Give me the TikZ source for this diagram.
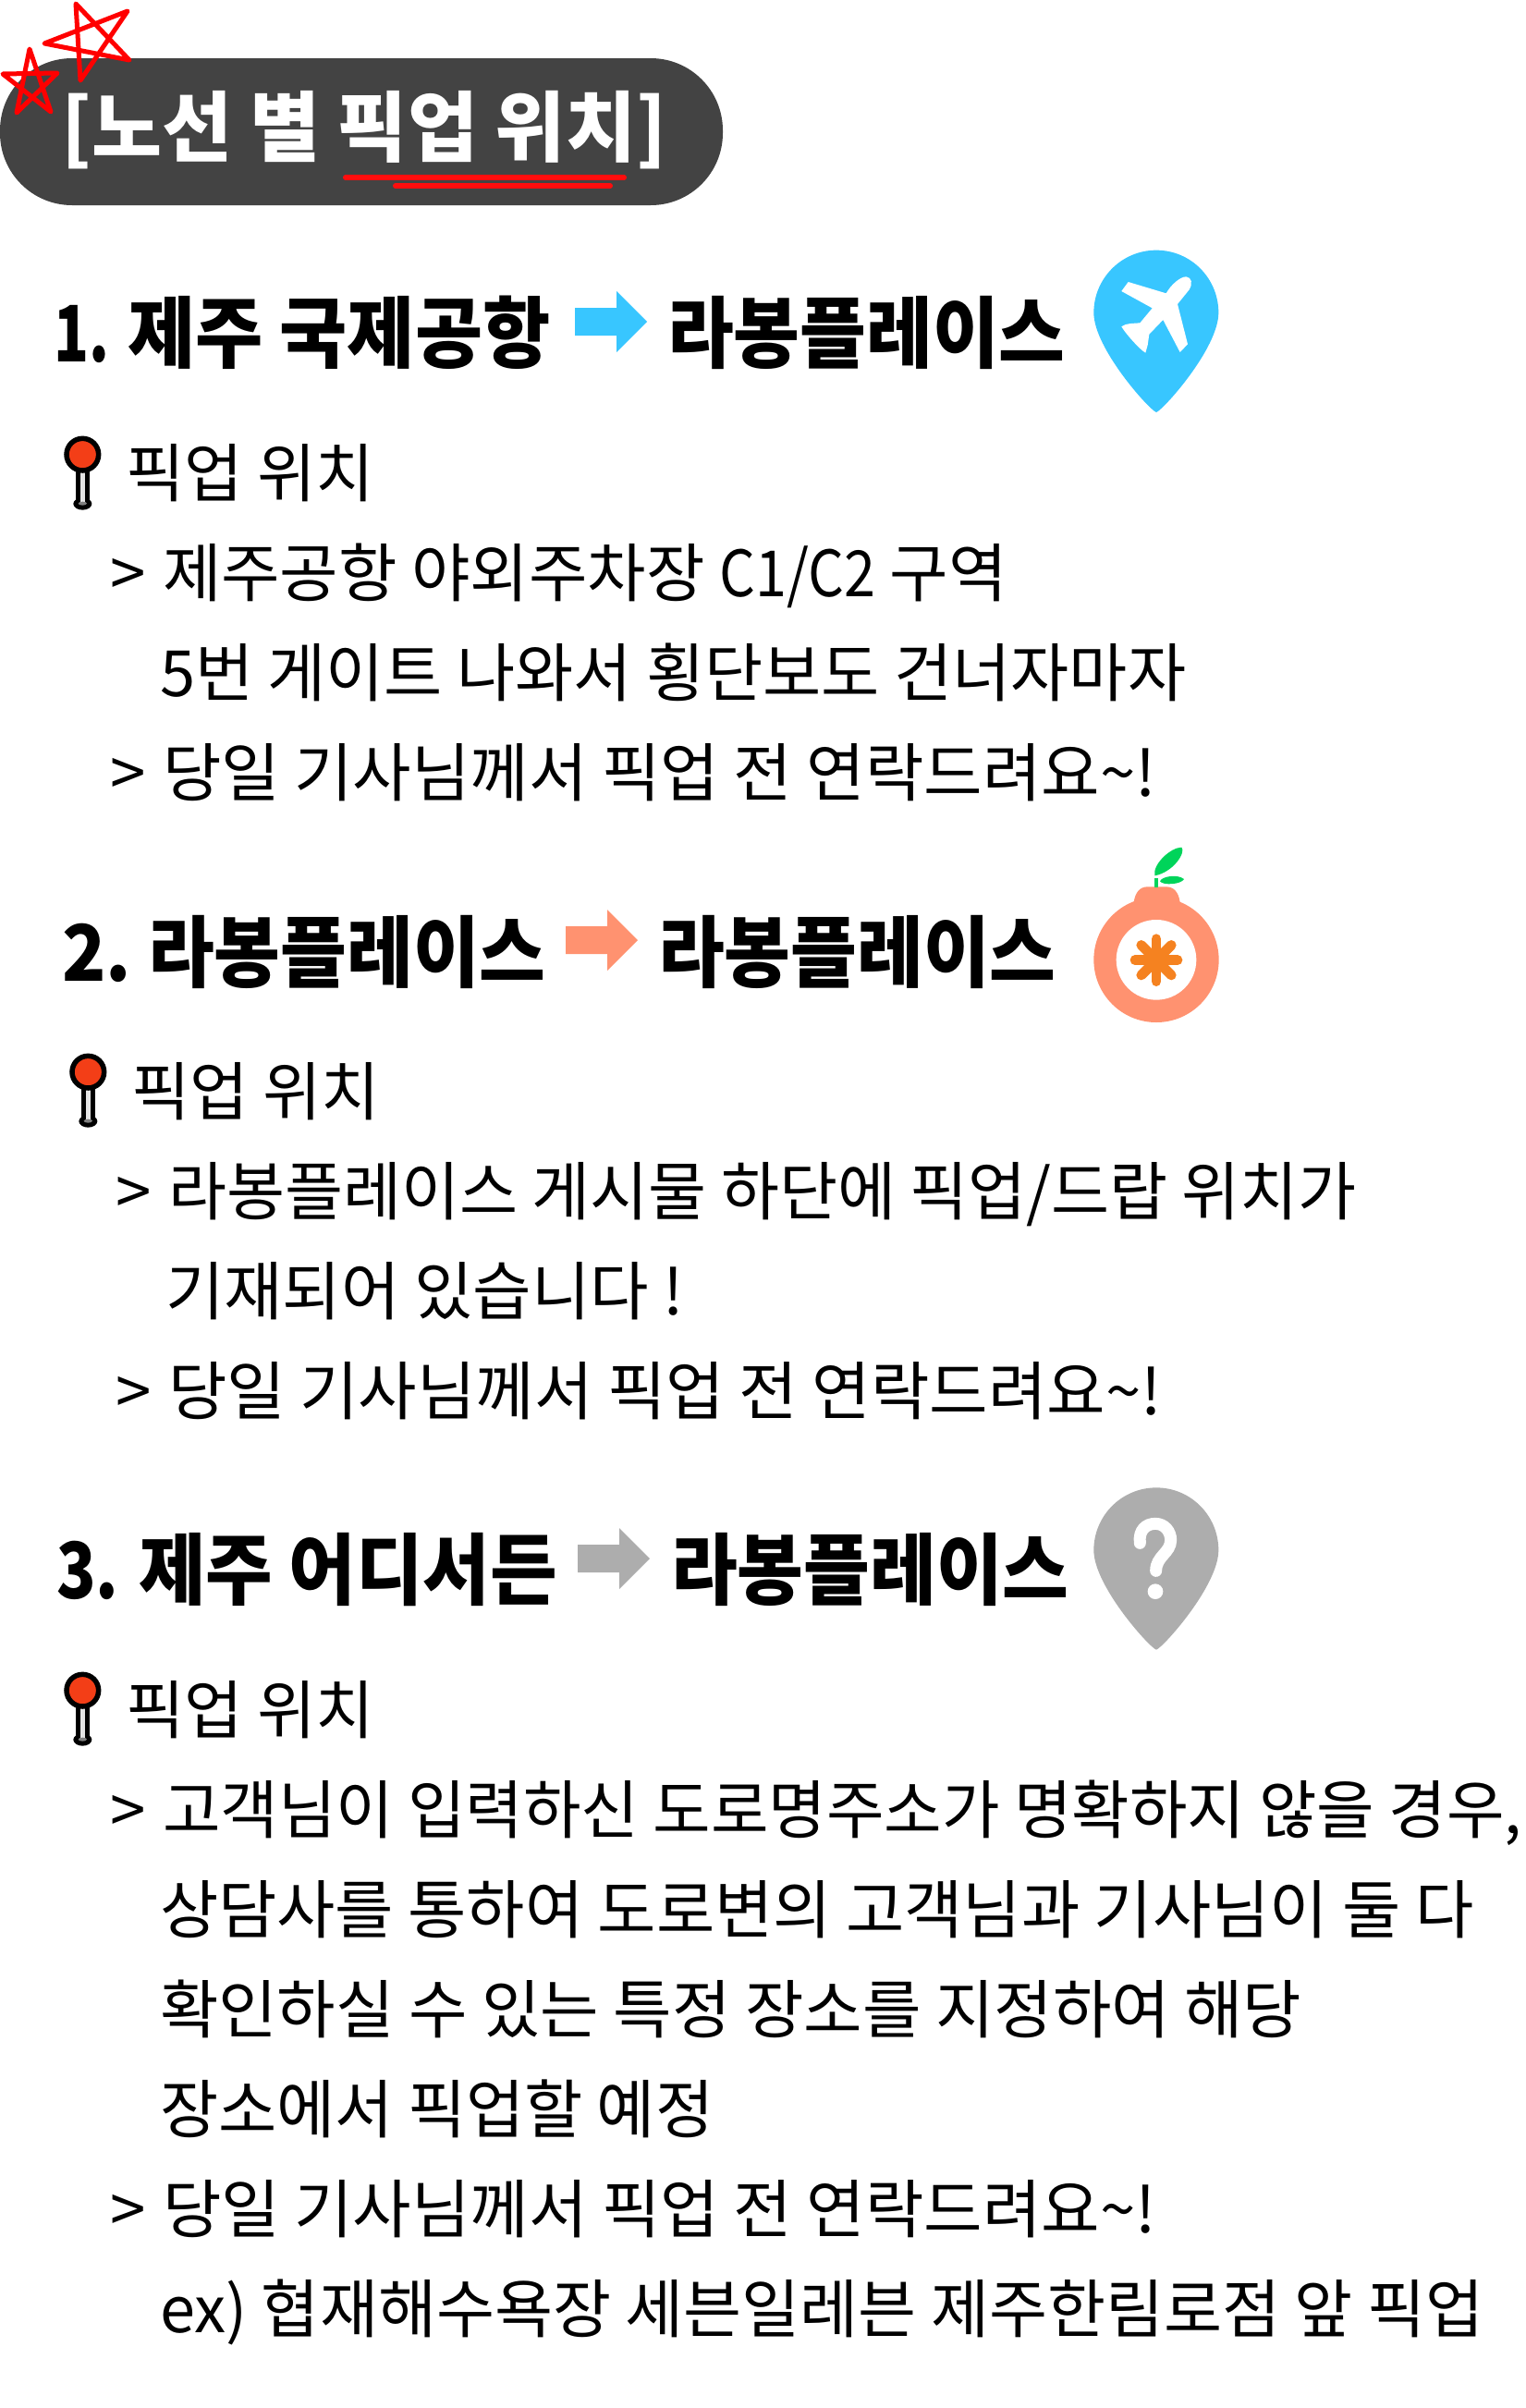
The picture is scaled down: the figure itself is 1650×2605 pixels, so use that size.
\documentclass[tikz,border=0pt]{standalone}
\usepackage{graphicx}
\usepackage{fontspec}
\newfontfamily\bodyfont{Noto Sans CJK KR}
\newfontfamily\headfont{Noto Sans CJK KR Black}
\definecolor{pilldark}{HTML}{434343}
\definecolor{starred}{HTML}{FF0000}
\definecolor{ulred}{HTML}{FF0D0D}
\definecolor{skyc}{HTML}{38C6FF}
\definecolor{peach}{HTML}{FF9270}
\definecolor{greyc}{HTML}{ADADAD}
\definecolor{orangec}{HTML}{F58220}
\definecolor{leafc}{HTML}{00D45A}
\definecolor{pinred}{HTML}{F33E17}
\newcommand{\tld}{\char"7E\relax}
\newcommand{\HS}[3]{\scalebox{#1}[#2]{#3}}
\tikzset{
  bodytxt/.style={anchor=base west,inner sep=0pt,outer sep=0pt,font=\bodyfont\fontsize{69}{80}\selectfont},
  headtxt/.style={anchor=base west,inner sep=0pt,outer sep=0pt,font=\headfont\fontsize{78}{90}\selectfont},
  titletxt/.style={anchor=base west,inner sep=0pt,outer sep=0pt,text=white,font=\headfont\fontsize{80}{90}\selectfont},
  starline/.style={draw=starred,line width=5pt,line join=round,line cap=round},
  ulline/.style={draw=ulred,line width=6pt,line cap=round},
  zoomunits/.style={x=.33333pt,y=-.33333pt}
}
\newcommand{\smallpin}[2]{%
  \begin{scope}[shift={(#1,#2)},zoomunits]
    \fill[black] (148,285) ellipse [x radius=30,y radius=20];
    \fill[black] (125,165) rectangle (171,285);
    \fill[black!10] (140,165) rectangle (157,280);
    \fill[black!50] (148,284) ellipse [x radius=14,y radius=6];
    \draw[black,line width=5.5pt,fill=pinred] (148,125) circle [radius=52];
  \end{scope}}
\newcommand{\bigarrow}[3]{%
  \fill[#3] (#1,#2) ++(0,18) -- ++(45,0) -- ++(0,-18) -- ++(33,33) -- ++(-33,33) -- ++(0,-18) -- ++(-45,0) -- cycle;}
\newcommand{\pinshape}{(363,588) .. controls (340,580) and (160,380) .. (160,265) .. controls (160,153) and (251,62) .. (363,62) .. controls (475,62) and (565,153) .. (565,265) .. controls (565,380) and (386,580) .. (363,588) -- cycle}
\begin{document}
\begin{tikzpicture}[x=1pt,y=-1pt]
\fill[white] (0,0) rectangle (1650,2605);
\useasboundingbox (0,0) rectangle (1650,2605);
% title
\fill[pilldark,rounded corners=78pt] (0,63) rectangle (782,222);
\draw[starline] (82,4) -- (87,87) -- (138,12) -- (48,47) -- (140,65) -- cycle;
\draw[starline] (32,53) -- (18,122) -- (62,79) -- (3,80) -- (55,121) -- cycle;
\node[titletxt] (title) at (66,168) {\HS{1.033}{1.04}{[노선 별 픽업 위치]}};
\draw[ulline] (374,192) -- (675,192);
\draw[ulline] (428,201) -- (660,201);
% section 1
\node[headtxt] (h1a) at (58,391) {\HS{.8}{1.08}{1.}};
\node[headtxt] (h1b) at (138,391) {\HS{1.02}{1.08}{제주 국제공항}};
\bigarrow{622}{315}{skyc}
\node[headtxt] (h1c) at (722,391) {\HS{1}{1.08}{라봉플레이스}};
\begin{scope}[shift={(1130,250)},zoomunits]
  \fill[skyc] \pinshape;
  \fill[white] (272,165) -- (395,202) .. controls (410,175) and (440,148) .. (460,148) .. controls (478,150) and (482,170) .. (470,190) -- (432,237) -- (465,367) -- (440,393) -- (385,288) -- (340,335) -- (335,370) -- (328,395) .. controls (310,385) and (265,335) .. (250,310) .. controls (265,298) and (290,300) .. (310,298) -- (350,250) -- (250,195) -- cycle;
\end{scope}
\smallpin{40}{450}
\node[bodytxt] (p1) at (136,537) {픽업 위치};
\node[bodytxt] (g11) at (119,645) {>};
\node[bodytxt] (t11) at (176,645) {제주공항 야외주차장 \HS{.885}{1}{C1/C2} 구역};
\node[bodytxt] (t12) at (173,753) {\HS{.995}{1}{5번 게이트 나와서 횡단보도 건너자마자}};
\node[bodytxt] (g13) at (119,861) {>};
\node[bodytxt] (t13) at (176,861) {당일 기사님께서 픽업 전 연락드려요\tld!};
% section 2
\node[headtxt] (h2a) at (67,1061) {\HS{1}{1.08}{2.}};
\node[headtxt] (h2b) at (160,1061) {\HS{1}{1.08}{라봉플레이스}};
\bigarrow{612}{984}{peach}
\node[headtxt] (h2c) at (712,1061) {\HS{1}{1.08}{라봉플레이스}};
\begin{scope}[shift={(1130,890)},zoomunits]
  \fill[peach] (290,258) .. controls (295,225) and (310,208) .. (335,208) -- (395,208) .. controls (420,208) and (435,225) .. (440,258) -- cycle;
  \fill[peach] (363,445) circle [radius=203];
  \fill[white] (363,445) circle [radius=130];
  \foreach \a in {0,45,...,315}
    \draw[orangec,line width=10.7pt,line cap=round] (363,446) -- ++(\a:69);
  \fill[leafc] (356,180) rectangle (370,210);
  \fill[leafc] (358,172) .. controls (350,135) and (410,80) .. (445,80) .. controls (460,95) and (420,160) .. (358,172) -- cycle;
  \fill[leafc] (375,190) .. controls (380,175) and (430,165) .. (453,183) .. controls (445,200) and (385,205) .. (375,190) -- cycle;
\end{scope}
\smallpin{46}{1118}
\node[bodytxt] (p2) at (142,1206) {픽업 위치};
\node[bodytxt] (g21) at (125,1314) {>};
\node[bodytxt] (t21) at (182,1314) {\HS{.993}{1}{라봉플레이스 게시물 하단에 픽업/드랍 위치가}};
\node[bodytxt] (t22) at (179,1422) {기재되어 있습니다 !};
\node[bodytxt] (g23) at (125,1530) {>};
\node[bodytxt] (t23) at (182,1530) {당일 기사님께서 픽업 전 연락드려요\tld!};
% section 3
\node[headtxt] (h3a) at (61,1729) {\HS{.9}{1.08}{3.}};
\node[headtxt] (h3b) at (150,1729) {\HS{1.01}{1.08}{제주 어디서든}};
\bigarrow{625}{1653}{greyc}
\node[headtxt] (h3c) at (726,1729) {\HS{1}{1.08}{라봉플레이스}};
\begin{scope}[shift={(1130,1588.67)},zoomunits]
  \fill[greyc] \pinshape;
\end{scope}
\begin{scope}[shift={(1130,1580)},zoomunits]
  \draw[white,line width=13pt,line cap=round] (310,268) .. controls (305,225) and (330,205) .. (360,205) .. controls (390,205) and (410,230) .. (410,258) .. controls (410,300) and (362,310) .. (362,358);
  \fill[white] (360,425) circle [radius=25];
\end{scope}
\smallpin{40}{1787}
\node[bodytxt] (p3) at (136,1875) {픽업 위치};
\node[bodytxt] (g31) at (119,1983) {>};
\node[bodytxt] (t31) at (176,1983) {\HS{.985}{1}{고객님이 입력하신 도로명주소가 명확하지 않을 경우,}};
\node[bodytxt] (t32) at (173,2091) {\HS{.997}{1}{상담사를 통하여 도로변의 고객님과 기사님이 둘 다}};
\node[bodytxt] (t33) at (173,2199) {확인하실 수 있는 특정 장소를 지정하여 해당};
\node[bodytxt] (t34) at (173,2307) {\HS{.995}{1}{장소에서 픽업할 예정}};
\node[bodytxt] (g35) at (119,2415) {>};
\node[bodytxt] (t35) at (176,2415) {당일 기사님께서 픽업 전 연락드려요\tld!};
\node[bodytxt] (t36) at (173,2523) {\HS{.993}{1}{ex) 협재해수욕장 세븐일레븐 제주한림로점 앞 픽업}};
\end{tikzpicture}
\end{document}
